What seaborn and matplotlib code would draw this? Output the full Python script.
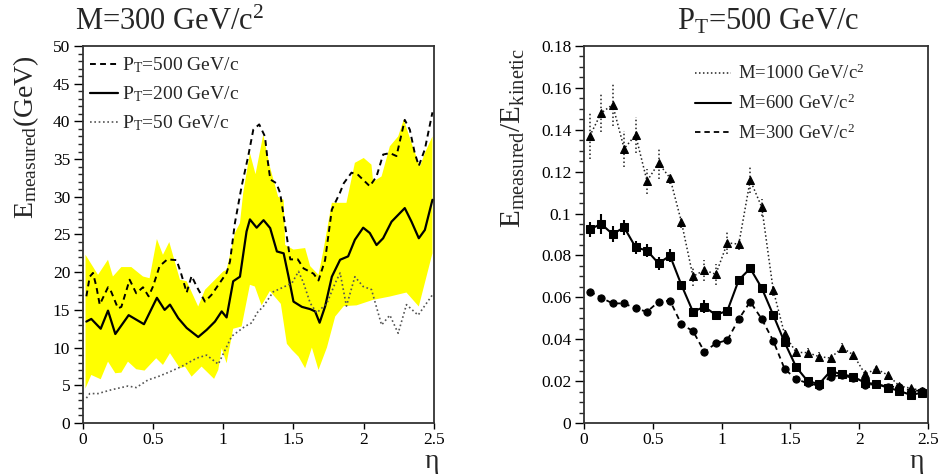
"""Energy deposit vs pseudorapidity: two ROOT-style panels redrawn with seaborn."""

import matplotlib
matplotlib.use("Agg")
import matplotlib.pyplot as plt
from matplotlib.lines import Line2D
from matplotlib.ticker import MultipleLocator, FuncFormatter
import seaborn as sns

# ---- left panel: M=300 GeV/c^2, three PT values -------------------------
pt500_eta = [0.026, 0.05, 0.073, 0.097, 0.121, 0.18, 0.203, 0.251, 0.275, 0.334,
             0.381, 0.429, 0.469, 0.5, 0.547, 0.602, 0.668, 0.699, 0.74, 0.775,
             0.811, 0.87, 0.917, 0.965, 1.024, 1.048, 1.083, 1.131, 1.178, 1.214,
             1.256, 1.297, 1.315, 1.335, 1.378, 1.405, 1.441, 1.477, 1.531, 1.572,
             1.643, 1.678, 1.725, 1.773, 1.83, 1.858, 1.913, 1.96, 2.043, 2.091,
             2.138, 2.186, 2.233, 2.292, 2.328, 2.363, 2.392, 2.435, 2.489]
pt500_e = [16.8, 19.4, 19.9, 18.1, 15.7, 18.0, 17.4, 15.2, 15.4, 19.0,
           17.2, 18.0, 16.8, 18.1, 20.8, 21.7, 21.6, 19.9, 17.3, 19.5,
           18.1, 16.1, 17.0, 18.3, 19.9, 21.4, 26.5, 31.4, 35.4, 38.9,
           39.6, 38.0, 35.0, 32.3, 31.8, 30.5, 26.1, 21.7, 21.7, 20.5,
           19.8, 18.9, 21.6, 28.3, 30.5, 31.8, 33.2, 32.9, 31.4, 32.7,
           35.6, 35.8, 35.4, 40.2, 38.9, 35.8, 34.1, 36.3, 41.2]

pt200_eta = [0.026, 0.061, 0.128, 0.18, 0.232, 0.327, 0.436, 0.528, 0.583, 0.621,
             0.68, 0.74, 0.822, 0.882, 0.941, 0.989, 1.024, 1.071, 1.119, 1.166,
             1.19, 1.238, 1.287, 1.334, 1.382, 1.43, 1.465, 1.5, 1.56, 1.619,
             1.654, 1.686, 1.725, 1.773, 1.832, 1.889, 1.937, 1.996, 2.043, 2.091,
             2.138, 2.198, 2.245, 2.292, 2.34, 2.392, 2.435, 2.489]
pt200_e = [13.45, 13.8, 12.5, 14.9, 11.8, 14.3, 13.1, 16.6, 15.0, 15.7,
           13.9, 12.6, 11.4, 12.35, 13.45, 14.8, 14.0, 18.8, 19.4, 25.4,
           27.0, 25.9, 26.9, 25.85, 22.75, 22.5, 19.4, 16.1, 15.4, 15.1,
           14.8, 13.3, 15.45, 19.4, 21.65, 22.1, 24.3, 25.9, 25.2, 23.6,
           24.5, 26.7, 27.6, 28.5, 26.7, 24.5, 25.6, 29.6]

pt50_eta = [0.026, 0.05, 0.109, 0.203, 0.322, 0.381, 0.464, 0.536, 0.621, 0.704,
            0.811, 0.882, 0.965, 1.06, 1.154, 1.204, 1.24, 1.285, 1.356, 1.415,
            1.489, 1.536, 1.572, 1.619, 1.666, 1.738, 1.797, 1.832, 1.877, 1.937,
            1.996, 2.055, 2.127, 2.186, 2.245, 2.304, 2.387, 2.489]
pt50_e = [3.3, 3.9, 3.9, 4.4, 4.9, 4.7, 5.7, 6.15, 6.8, 7.5,
          8.6, 9.0, 7.8, 11.5, 12.8, 13.3, 14.6, 15.45, 17.4, 17.9,
          18.55, 20.1, 18.55, 15.9, 14.6, 15.9, 18.55, 19.9, 15.5, 19.4,
          18.1, 17.7, 13.0, 14.3, 11.9, 15.7, 14.3, 17.0]

# yellow band around PT=200 (upper / lower envelope)
band_hi_eta = [0.02, 0.109, 0.18, 0.215, 0.275, 0.346, 0.429, 0.476, 0.528, 0.571,
               0.616, 0.692, 0.74, 0.822, 0.87, 1.0, 1.024, 1.083, 1.119, 1.142,
               1.19, 1.23, 1.285, 1.332, 1.391, 1.43, 1.441, 1.5, 1.583, 1.619,
               1.678, 1.714, 1.773, 1.877, 1.937, 2.0, 2.055, 2.067, 2.127, 2.186,
               2.245, 2.285, 2.34, 2.4, 2.435, 2.489]
band_hi_e = [22.3, 19.65, 21.65, 19.43, 20.68, 20.68, 19.43, 19.2, 24.4, 22.3,
             24.0, 19.0, 18.8, 15.45, 17.66, 20.1, 20.3, 25.2, 26.5, 30.5,
             35.8, 33.0, 38.25, 34.0, 30.0, 29.6, 23.6, 23.0, 23.2, 20.8,
             19.65, 23.0, 29.2, 29.2, 34.5, 35.15, 34.26, 32.0, 32.7, 36.7,
             38.0, 40.24, 37.15, 34.0, 35.8, 38.0]
band_lo_eta = [0.02, 0.061, 0.128, 0.18, 0.232, 0.275, 0.322, 0.381, 0.44, 0.523,
               0.571, 0.621, 0.692, 0.728, 0.775, 0.846, 0.935, 0.965, 0.989, 1.024,
               1.071, 1.131, 1.19, 1.225, 1.273, 1.332, 1.41, 1.453, 1.489, 1.536,
               1.583, 1.631, 1.678, 1.738, 1.797, 1.858, 1.949, 2.067, 2.186, 2.304,
               2.392, 2.489]
band_lo_e = [4.6, 6.37, 5.8, 8.14, 6.6, 6.68, 8.14, 7.13, 6.95, 8.59,
             7.7, 9.26, 7.26, 7.48, 6.15, 7.48, 5.85, 7.04, 9.92, 7.93,
             12.5, 12.8, 18.33, 18.1, 15.6, 17.5, 15.8, 10.5, 9.69, 8.8,
             7.26, 10.0, 7.04, 10.0, 14.12, 15.5, 15.6, 16.33, 16.77, 17.3,
             15.45, 22.5]

# ---- right panel: PT=500 GeV/c, three masses ----------------------------
eta_bins = [0.042, 0.125, 0.208, 0.292, 0.375, 0.458, 0.542, 0.625, 0.708, 0.792,
            0.875, 0.958, 1.042, 1.125, 1.208, 1.292, 1.375, 1.458, 1.542, 1.625,
            1.708, 1.792, 1.875, 1.958, 2.042, 2.125, 2.208, 2.292, 2.375, 2.458]
ratio_m1000 = [0.137, 0.148, 0.152, 0.131, 0.1375, 0.1155, 0.124, 0.117, 0.096, 0.070,
               0.073, 0.071, 0.086, 0.0854, 0.116, 0.103, 0.0635, 0.0423, 0.0337, 0.0336,
               0.0317, 0.031, 0.036, 0.0325, 0.0234, 0.0258, 0.0229, 0.0177, 0.0166, 0.0154]
err_m1000 = [0.011, 0.009, 0.010, 0.0086, 0.0088, 0.006, 0.0074, 0.003, 0.003, 0.0045,
             0.005, 0.005, 0.0055, 0.003, 0.006, 0.004, 0.003, 0.002, 0.002, 0.002,
             0.002, 0.002, 0.002, 0.002, 0.002, 0.0015, 0.0015, 0.001, 0.001, 0.001]
ratio_m600 = [0.0925, 0.095, 0.0902, 0.0934, 0.0839, 0.0823, 0.0762, 0.0799, 0.0659, 0.0531,
              0.0555, 0.0516, 0.0536, 0.0683, 0.0738, 0.0644, 0.0516, 0.0385, 0.0267, 0.020,
              0.0186, 0.0248, 0.0232, 0.0221, 0.0192, 0.0186, 0.0169, 0.0153, 0.0134, 0.0145]
err_m600 = [0.0036, 0.0048, 0.004, 0.0035, 0.003, 0.003, 0.003, 0.003, 0.002, 0.002,
            0.003, 0.002, 0.002, 0.002, 0.002, 0.002, 0.0015, 0.0015, 0.001, 0.001,
            0.001, 0.001, 0.001, 0.001, 0.001, 0.001, 0.001, 0.001, 0.001, 0.001]
ratio_m300 = [0.0627, 0.0598, 0.0571, 0.0571, 0.0547, 0.0531, 0.0579, 0.0584, 0.0471, 0.0439,
              0.034, 0.038, 0.0396, 0.0496, 0.0579, 0.0496, 0.0393, 0.0258, 0.0209, 0.019,
              0.0178, 0.0221, 0.0229, 0.0213, 0.0181, 0.0186, 0.0173, 0.0173, 0.0154, 0.0154]
err_m300 = [0.001] * 30

dash = (0, (3, 2.2))
dots = (0, (1, 1.6))

sns.set_theme(style="ticks")
plt.rcParams["font.family"] = ["Liberation Serif", "DejaVu Serif"]
plt.rcParams["mathtext.fontset"] = "custom"
plt.rcParams["mathtext.rm"] = "Liberation Serif"
plt.rcParams["mathtext.it"] = "Liberation Serif:italic"
plt.rcParams["axes.edgecolor"] = "#333333"

fig = plt.figure(figsize=(9.41, 4.75), dpi=100)
ax1 = fig.add_axes([0.0879, 0.1095, 0.3733, 0.7937])
ax2 = fig.add_axes([0.6206, 0.1095, 0.3656, 0.7937])

# left panel
ax1.fill(band_hi_eta + band_lo_eta[::-1], band_hi_e + band_lo_e[::-1],
         color="#ffff00", linewidth=0, zorder=1)
sns.lineplot(x=pt500_eta, y=pt500_e, sort=False, estimator=None, ax=ax1,
             color="black", linewidth=1.4, linestyle=dash, zorder=3)
sns.lineplot(x=pt200_eta, y=pt200_e, sort=False, estimator=None, ax=ax1,
             color="black", linewidth=1.6, zorder=3)
sns.lineplot(x=pt50_eta, y=pt50_e, sort=False, estimator=None, ax=ax1,
             color="#555555", linewidth=1.2, linestyle=dots, zorder=3)

left_handles = [Line2D([], [], color="black", lw=1.4, ls=dash),
                Line2D([], [], color="black", lw=1.6),
                Line2D([], [], color="#555555", lw=1.2, ls=dots)]
ax1.legend(left_handles,
           [r"P$_{\mathrm{T}}$=500 GeV/c", r"P$_{\mathrm{T}}$=200 GeV/c",
            r"P$_{\mathrm{T}}$=50 GeV/c"],
           loc="upper left", bbox_to_anchor=(0.02, 0.975), frameon=False,
           fontsize=14, handlelength=1.45, handletextpad=0.2, labelspacing=0.48,
           borderpad=0, borderaxespad=0)

ax1.set_xlim(0, 2.5)
ax1.set_ylim(0, 50)
ax1.yaxis.set_major_locator(MultipleLocator(5))
ax1.yaxis.set_minor_locator(MultipleLocator(1))
ax1.set_ylabel(r"E$_{\mathrm{measured}}$(GeV)", fontsize=20, loc="top")
ax1.yaxis.set_label_coords(-0.118, 0.975)

# right panel
series = [
    (ratio_m1000, err_m1000, "^", 5.5, dots, 1.1, "#222222"),
    (ratio_m600, err_m600, "s", 5.2, "-", 1.5, "black"),
    (ratio_m300, err_m300, "o", 5.2, dash, 1.3, "black"),
]
for vals, errs, mk, ms, ls, lw, col in series:
    eb = ax2.errorbar(eta_bins, vals, yerr=errs, fmt="none", ecolor=col,
                      elinewidth=lw, zorder=2)
    eb[2][0].set_linestyle(ls)
    sns.lineplot(x=eta_bins, y=vals, sort=False, estimator=None, ax=ax2,
                 color=col, linewidth=lw, linestyle=ls, marker=mk, markersize=ms,
                 mec="black", mfc="black", zorder=3)

right_handles = [Line2D([], [], color="#222222", lw=1.1, ls=dots),
                 Line2D([], [], color="black", lw=1.5),
                 Line2D([], [], color="black", lw=1.3, ls=dash)]
ax2.legend(right_handles,
           [r"M=1000 GeV/c$^{2}$", r"M=600 GeV/c$^{2}$", r"M=300 GeV/c$^{2}$"],
           loc="upper left", bbox_to_anchor=(0.323, 0.952), frameon=False,
           fontsize=13.5, handlelength=1.9, handletextpad=0.4, labelspacing=0.55,
           borderpad=0, borderaxespad=0)

ax2.set_xlim(0, 2.5)
ax2.set_ylim(0, 0.18)
ax2.yaxis.set_major_locator(MultipleLocator(0.02))
ax2.yaxis.set_minor_locator(MultipleLocator(0.005))
ax2.set_ylabel(r"E$_{\mathrm{measured}}$/E$_{\mathrm{kinetic}}$", fontsize=21, loc="top")
ax2.yaxis.set_label_coords(-0.165, 0.995)

fmt = FuncFormatter(lambda v, _: f"{v:g}")
for ax in (ax1, ax2):
    ax.xaxis.set_major_locator(MultipleLocator(0.5))
    ax.xaxis.set_major_formatter(fmt)
    ax.yaxis.set_major_formatter(fmt)
    ax.set_xlabel("")
    ax.tick_params(axis="both", which="major", direction="out", length=6.5,
                   width=1, labelsize=12.5, pad=2.5, colors="black")
    ax.tick_params(axis="x", which="major", length=4)
    ax.tick_params(axis="y", which="minor", direction="out", length=3.6, width=1)
    for sp in ax.spines.values():
        sp.set_visible(True)
        sp.set_linewidth(1.3)
    ax.text(0.994 if ax is ax1 else 0.968, -0.103, "η", transform=ax.transAxes,
            ha="center", va="center", fontsize=20)

fig.text(0.080, 0.937, r"M=300 GeV/c$^{2}$", fontsize=22, va="baseline")
fig.text(0.7195, 0.937, r"P$_{\mathrm{T}}$=500 GeV/c", fontsize=22, va="baseline")

fig.savefig("out.png", dpi=100)
